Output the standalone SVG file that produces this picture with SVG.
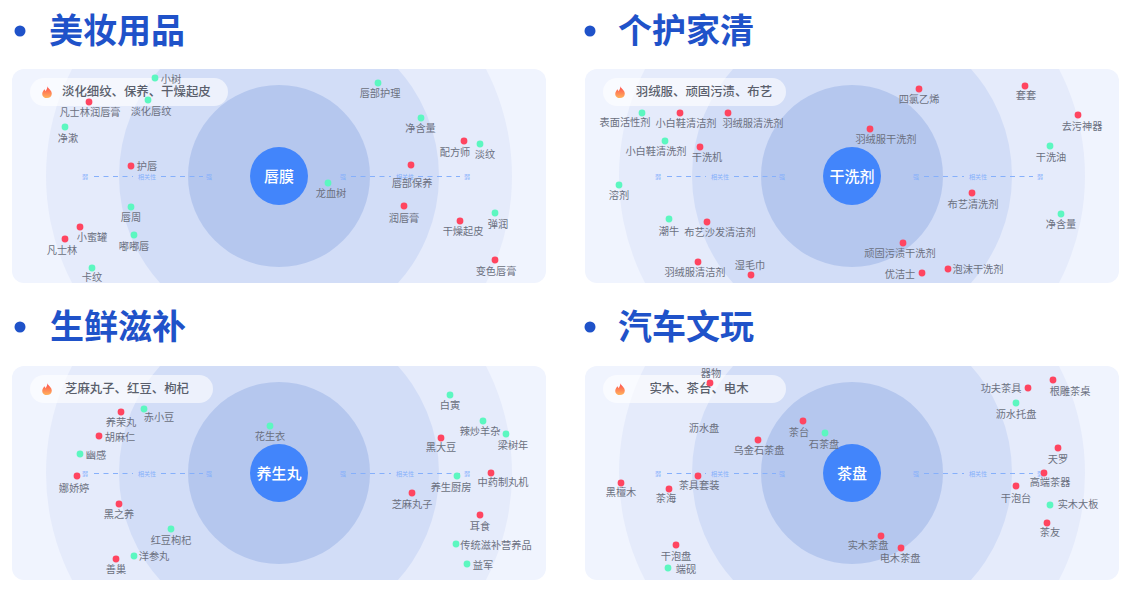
<svg xmlns="http://www.w3.org/2000/svg" xmlns:xlink="http://www.w3.org/1999/xlink" width="1131" height="592" viewBox="0 0 1131 592">
<style>
text{font-family:"Noto Sans CJK SC","Noto Sans",sans-serif;dominant-baseline:central}
.t{font-size:34px;font-weight:700;fill:#1f52c9;transform:translateY(-3px)}
.b{fill:#1f52c9}
.p{fill:#f0f4fe}.c1{fill:#e5ebfb}.c2{fill:#d2ddf7}.c3{fill:#b5c7ee}.c4{fill:#4285fb}
.pill{fill:#fff;fill-opacity:.6}
.pt{font-size:12.4px;fill:#5a5f6c;font-weight:500;transform:translateY(-1px)}
.ct{font-size:15px;fill:#fff;text-anchor:middle;font-weight:500;transform:translateY(-1px)}
.l{font-size:10.2px;fill:#6b7080;text-anchor:middle;transform:translateY(-1px)}
.r{fill:#ff4560}.g{fill:#5cf7c0}
.ax{font-size:6px;fill:#86b0fb;text-anchor:middle;transform:translateY(-.5px)}
.d{stroke:#86b0fb;stroke-width:1;stroke-dasharray:5 4.5;fill:none}
</style>
<defs>
<linearGradient id="fire" x1="0" y1="0" x2="0" y2="1"><stop offset="0" stop-color="#ff4d4f"/><stop offset="1" stop-color="#ffb35c"/></linearGradient>
<path id="flame" d="M0.5,-6.2C1,-3.6 4.8,-2.4 4.8,1.2C4.8,4 2.6,5.6 0,5.6C-2.6,5.6 -4.8,3.9 -4.8,1.4C-4.8,-0.8 -3.2,-1.8 -2.8,-3.2C-2,-2.6 -1.6,-1.8 -1.5,-1.2C-0.6,-2.4 0.4,-4.2 0.5,-6.2Z" fill="url(#fire)"/>
<clipPath id="cp1"><rect x="12" y="69" width="534" height="214" rx="12"/></clipPath>
<clipPath id="cp2"><rect x="585" y="69" width="534" height="214" rx="12"/></clipPath>
<clipPath id="cp3"><rect x="12" y="366" width="534" height="214" rx="12"/></clipPath>
<clipPath id="cp4"><rect x="585" y="366" width="534" height="214" rx="12"/></clipPath>
</defs>

<g id="titles">
<circle class="b" cx="20" cy="31" r="5.5"/><text class="t" x="49" y="31">美妆用品</text>
<circle class="b" cx="590" cy="31" r="5.5"/><text class="t" x="618" y="31">个护家清</text>
<circle class="b" cx="20" cy="327" r="5.5"/><text class="t" x="50" y="327">生鲜滋补</text>
<circle class="b" cx="590" cy="327" r="5.5"/><text class="t" x="618" y="327">汽车文玩</text>
</g>

<g id="panel1-bg"><rect class="p" x="12" y="69" width="534" height="214" rx="12"/><g clip-path="url(#cp1)"><circle class="c1" cx="279" cy="176" r="233"/><circle class="c2" cx="279" cy="176" r="160"/><circle class="c3" cx="279" cy="176" r="91"/></g></g>
<g id="panel2-bg"><rect class="p" x="585" y="69" width="534" height="214" rx="12"/><g clip-path="url(#cp2)"><circle class="c1" cx="852" cy="176" r="233"/><circle class="c2" cx="852" cy="176" r="160"/><circle class="c3" cx="852" cy="176" r="91"/></g></g>
<g id="panel3-bg"><rect class="p" x="12" y="366" width="534" height="214" rx="12"/><g clip-path="url(#cp3)"><circle class="c1" cx="279" cy="473" r="233"/><circle class="c2" cx="279" cy="473" r="160"/><circle class="c3" cx="279" cy="473" r="91"/></g></g>
<g id="panel4-bg"><rect class="p" x="585" y="366" width="534" height="214" rx="12"/><g clip-path="url(#cp4)"><circle class="c1" cx="852" cy="473" r="233"/><circle class="c2" cx="852" cy="473" r="160"/><circle class="c3" cx="852" cy="473" r="91"/></g></g>

<g id="connectors">
<path class="d" d="M94 176.5H133M161 176.5H203M351 176.5H391M418 176.5H460"/>
<path class="d" d="M667 176.5H706M734 176.5H776M924 176.5H964M991 176.5H1033"/>
<path class="d" d="M94 473.5H133M161 473.5H203M351 473.5H391M418 473.5H460"/>
<path class="d" d="M667 473.5H706M734 473.5H776M924 473.5H964M991 473.5H1033"/>
</g>
<g id="axis-labels">
<text class="ax" x="85" y="176.5">弱</text><text class="ax" x="147" y="176.5">相关性</text><text class="ax" x="209" y="176.5">强</text><text class="ax" x="343" y="176.5">强</text><text class="ax" x="405" y="176.5">相关性</text><text class="ax" x="467" y="176.5">弱</text>
<text class="ax" x="658" y="176.5">弱</text><text class="ax" x="720" y="176.5">相关性</text><text class="ax" x="782" y="176.5">强</text><text class="ax" x="916" y="176.5">强</text><text class="ax" x="978" y="176.5">相关性</text><text class="ax" x="1040" y="176.5">弱</text>
<text class="ax" x="85" y="473.5">弱</text><text class="ax" x="147" y="473.5">相关性</text><text class="ax" x="209" y="473.5">强</text><text class="ax" x="343" y="473.5">强</text><text class="ax" x="405" y="473.5">相关性</text><text class="ax" x="467" y="473.5">弱</text>
<text class="ax" x="658" y="473.5">弱</text><text class="ax" x="720" y="473.5">相关性</text><text class="ax" x="782" y="473.5">强</text><text class="ax" x="916" y="473.5">强</text><text class="ax" x="978" y="473.5">相关性</text><text class="ax" x="1040" y="473.5">弱</text>
</g>

<g id="center1"><circle class="c4" cx="279" cy="176" r="29"/><text class="ct" x="279" y="176">唇膜</text></g>
<g id="center2"><circle class="c4" cx="852" cy="176" r="29"/><text class="ct" x="852" y="176">干洗剂</text></g>
<g id="center3"><circle class="c4" cx="279" cy="473" r="29"/><text class="ct" x="279" y="473">养生丸</text></g>
<g id="center4"><circle class="c4" cx="852" cy="473" r="29"/><text class="ct" x="852" y="473">茶盘</text></g>

<g id="pill1"><rect class="pill" x="30" y="78" width="198" height="28" rx="14"/><use xlink:href="#flame" href="#flame" x="47" y="92.5"/><text class="pt" x="62" y="92">淡化细纹、保养、干燥起皮</text></g>
<g id="pill2"><rect class="pill" x="603" y="78" width="183" height="28" rx="14"/><use xlink:href="#flame" href="#flame" x="620" y="92.5"/><text class="pt" x="704" y="92" text-anchor="middle">羽绒服、顽固污渍、布艺</text></g>
<g id="pill3"><rect class="pill" x="30" y="375" width="183" height="28" rx="14"/><use xlink:href="#flame" href="#flame" x="47" y="389.5"/><text class="pt" x="127" y="389" text-anchor="middle">芝麻丸子、红豆、枸杞</text></g>
<g id="pill4"><rect class="pill" x="603" y="375" width="183" height="28" rx="14"/><use xlink:href="#flame" href="#flame" x="620" y="389.5"/><text class="pt" x="699" y="389" text-anchor="middle">实木、茶台、电木</text></g>

<g id="p1-n1"><circle class="g" cx="155" cy="78" r="3.4"/><text class="l" x="171" y="79">小树</text></g>
<g id="p1-n2"><circle class="r" cx="89" cy="102" r="3.4"/><text class="l" x="90" y="112">凡士林润唇膏</text></g>
<g id="p1-n3"><circle class="g" cx="148" cy="100" r="3.4"/><text class="l" x="151" y="111">淡化唇纹</text></g>
<g id="p1-n4"><circle class="g" cx="65" cy="127" r="3.4"/><text class="l" x="68" y="138">净漱</text></g>
<g id="p1-n5"><circle class="r" cx="131" cy="166" r="3.4"/><text class="l" x="147" y="166">护唇</text></g>
<g id="p1-n6"><circle class="g" cx="131" cy="207" r="3.4"/><text class="l" x="131" y="217">唇周</text></g>
<g id="p1-n7"><circle class="r" cx="80" cy="227" r="3.4"/><text class="l" x="92" y="237">小蜜罐</text></g>
<g id="p1-n8"><circle class="r" cx="65" cy="239" r="3.4"/><text class="l" x="62" y="250">凡士林</text></g>
<g id="p1-n9"><circle class="g" cx="134" cy="235" r="3.4"/><text class="l" x="134" y="246">嘟嘟唇</text></g>
<g id="p1-n10"><circle class="g" cx="92" cy="268" r="3.4"/><text class="l" x="92" y="277">卡纹</text></g>
<g id="p1-n11"><circle class="g" cx="378" cy="83" r="3.4"/><text class="l" x="380" y="93">唇部护理</text></g>
<g id="p1-n12"><circle class="g" cx="421" cy="118" r="3.4"/><text class="l" x="420.5" y="128">净含量</text></g>
<g id="p1-n13"><circle class="r" cx="464" cy="141" r="3.4"/><text class="l" x="455" y="152">配方师</text></g>
<g id="p1-n14"><circle class="g" cx="480" cy="144" r="3.4"/><text class="l" x="485" y="154">淡纹</text></g>
<g id="p1-n15"><circle class="r" cx="411" cy="165" r="3.4"/><text class="l" x="412" y="183">唇部保养</text></g>
<g id="p1-n16"><circle class="g" cx="328" cy="183" r="3.4"/><text class="l" x="331" y="193">龙血树</text></g>
<g id="p1-n17"><circle class="r" cx="404" cy="206" r="3.4"/><text class="l" x="404" y="218">润唇膏</text></g>
<g id="p1-n18"><circle class="r" cx="460" cy="221" r="3.4"/><text class="l" x="463" y="231">干燥起皮</text></g>
<g id="p1-n19"><circle class="g" cx="495" cy="213" r="3.4"/><text class="l" x="498" y="224">弹润</text></g>
<g id="p1-n20"><circle class="r" cx="495" cy="260" r="3.4"/><text class="l" x="496" y="271">变色唇膏</text></g>

<g id="p2-n1"><circle class="g" cx="642" cy="113" r="3.4"/><text class="l" x="625" y="122">表面活性剂</text></g>
<g id="p2-n2"><circle class="r" cx="680" cy="113" r="3.4"/><text class="l" x="686" y="123">小白鞋清洁剂</text></g>
<g id="p2-n3"><circle class="r" cx="728" cy="113" r="3.4"/><text class="l" x="753" y="123">羽绒服清洗剂</text></g>
<g id="p2-n4"><circle class="g" cx="665" cy="141" r="3.4"/><text class="l" x="656" y="151">小白鞋清洗剂</text></g>
<g id="p2-n5"><circle class="r" cx="700" cy="147" r="3.4"/><text class="l" x="707" y="157">干洗机</text></g>
<g id="p2-n6"><circle class="g" cx="619" cy="185" r="3.4"/><text class="l" x="619" y="195">溶剂</text></g>
<g id="p2-n7"><circle class="g" cx="669" cy="219" r="3.4"/><text class="l" x="669" y="231">潮牛</text></g>
<g id="p2-n8"><circle class="r" cx="707" cy="222" r="3.4"/><text class="l" x="720" y="232">布艺沙发清洁剂</text></g>
<g id="p2-n9"><circle class="r" cx="698" cy="262" r="3.4"/><text class="l" x="695" y="272">羽绒服清洁剂</text></g>
<g id="p2-n10"><circle class="r" cx="751" cy="275" r="3.4"/><text class="l" x="750" y="265">湿毛巾</text></g>
<g id="p2-n11"><circle class="r" cx="919" cy="89" r="3.4"/><text class="l" x="919" y="99">四氯乙烯</text></g>
<g id="p2-n12"><circle class="r" cx="1025" cy="86" r="3.4"/><text class="l" x="1026" y="95">套套</text></g>
<g id="p2-n13"><circle class="r" cx="1078" cy="115" r="3.4"/><text class="l" x="1082" y="126">去污神器</text></g>
<g id="p2-n14"><circle class="r" cx="870" cy="129" r="3.4"/><text class="l" x="886" y="139">羽绒服干洗剂</text></g>
<g id="p2-n15"><circle class="g" cx="1050" cy="146" r="3.4"/><text class="l" x="1051" y="157">干洗油</text></g>
<g id="p2-n16"><circle class="r" cx="972" cy="193" r="3.4"/><text class="l" x="973" y="204">布艺清洗剂</text></g>
<g id="p2-n17"><circle class="g" cx="1061" cy="214" r="3.4"/><text class="l" x="1061" y="224">净含量</text></g>
<g id="p2-n18"><circle class="r" cx="903" cy="243" r="3.4"/><text class="l" x="900" y="253">顽固污渍干洗剂</text></g>
<g id="p2-n19"><circle class="r" cx="922" cy="273" r="3.4"/><text class="l" x="900" y="274">优洁士</text></g>
<g id="p2-n20"><circle class="r" cx="948" cy="269" r="3.4"/><text class="l" x="978" y="269">泡沫干洗剂</text></g>

<g id="p3-n1"><circle class="r" cx="121" cy="412" r="3.4"/><text class="l" x="121" y="422">养荣丸</text></g>
<g id="p3-n2"><circle class="g" cx="144" cy="409" r="3.4"/><text class="l" x="159" y="417">赤小豆</text></g>
<g id="p3-n3"><circle class="r" cx="99" cy="436" r="3.4"/><text class="l" x="120" y="437">胡麻仁</text></g>
<g id="p3-n4"><circle class="g" cx="80" cy="454" r="3.4"/><text class="l" x="96" y="455">幽感</text></g>
<g id="p3-n5"><circle class="r" cx="77" cy="476" r="3.4"/><text class="l" x="74" y="488">娜娇婷</text></g>
<g id="p3-n6"><circle class="r" cx="119" cy="504" r="3.4"/><text class="l" x="119" y="514">黑之养</text></g>
<g id="p3-n7"><circle class="g" cx="171" cy="529" r="3.4"/><text class="l" x="171" y="540">红豆枸杞</text></g>
<g id="p3-n8"><circle class="g" cx="134" cy="556" r="3.4"/><text class="l" x="154" y="556">洋参丸</text></g>
<g id="p3-n9"><circle class="r" cx="116" cy="559" r="3.4"/><text class="l" x="116" y="569">善巢</text></g>
<g id="p3-n10"><circle class="g" cx="270" cy="426" r="3.4"/><text class="l" x="270" y="436">花生衣</text></g>
<g id="p3-n11"><circle class="g" cx="450" cy="395" r="3.4"/><text class="l" x="450" y="405">白寅</text></g>
<g id="p3-n12"><circle class="g" cx="483" cy="421" r="3.4"/><text class="l" x="480" y="431">辣炒羊杂</text></g>
<g id="p3-n13"><circle class="g" cx="506" cy="434" r="3.4"/><text class="l" x="513" y="445">梁树年</text></g>
<g id="p3-n14"><circle class="r" cx="441" cy="438" r="3.4"/><text class="l" x="441" y="447">黑大豆</text></g>
<g id="p3-n15"><circle class="g" cx="457" cy="476" r="3.4"/><text class="l" x="451" y="487">养生厨房</text></g>
<g id="p3-n16"><circle class="r" cx="491" cy="473" r="3.4"/><text class="l" x="503" y="482">中药制丸机</text></g>
<g id="p3-n17"><circle class="r" cx="412" cy="493" r="3.4"/><text class="l" x="412" y="504">芝麻丸子</text></g>
<g id="p3-n18"><circle class="r" cx="480" cy="515" r="3.4"/><text class="l" x="480" y="526">耳食</text></g>
<g id="p3-n19"><circle class="g" cx="456" cy="544" r="3.4"/><text class="l" x="496" y="545">传统滋补营养品</text></g>
<g id="p3-n20"><circle class="g" cx="467" cy="564" r="3.4"/><text class="l" x="483" y="565">益军</text></g>

<g id="p4-n1"><circle class="r" cx="710" cy="383" r="3.4"/><text class="l" x="711" y="373">器物</text></g>
<g id="p4-n2"><text class="l" x="704" y="428">沥水盘</text></g>
<g id="p4-n3"><circle class="r" cx="803" cy="421" r="3.4"/><text class="l" x="799" y="432">茶台</text></g>
<g id="p4-n4"><circle class="g" cx="825" cy="433" r="3.4"/><text class="l" x="824" y="444">石茶盘</text></g>
<g id="p4-n5"><circle class="r" cx="758" cy="440" r="3.4"/><text class="l" x="759" y="450">乌金石茶盘</text></g>
<g id="p4-n6"><circle class="r" cx="698" cy="476" r="3.4"/><text class="l" x="699" y="485">茶具套装</text></g>
<g id="p4-n7"><circle class="r" cx="621" cy="483" r="3.4"/><text class="l" x="621" y="492">黑檀木</text></g>
<g id="p4-n8"><circle class="r" cx="669" cy="489" r="3.4"/><text class="l" x="666" y="498">茶海</text></g>
<g id="p4-n9"><circle class="r" cx="676" cy="545" r="3.4"/><text class="l" x="676" y="556">干泡盘</text></g>
<g id="p4-n10"><circle class="g" cx="668" cy="568" r="3.4"/><text class="l" x="686" y="569">端砚</text></g>
<g id="p4-n11"><circle class="r" cx="1028" cy="388" r="3.4"/><text class="l" x="1001" y="388">功夫茶具</text></g>
<g id="p4-n12"><circle class="r" cx="1053" cy="380" r="3.4"/><text class="l" x="1070" y="391">根雕茶桌</text></g>
<g id="p4-n13"><circle class="g" cx="1016" cy="403" r="3.4"/><text class="l" x="1016" y="414">沥水托盘</text></g>
<g id="p4-n14"><circle class="r" cx="1058" cy="448" r="3.4"/><text class="l" x="1058" y="459">天罗</text></g>
<g id="p4-n15"><circle class="r" cx="1044" cy="473" r="3.4"/><text class="l" x="1050" y="482">高端茶器</text></g>
<g id="p4-n16"><circle class="r" cx="1016" cy="486" r="3.4"/><text class="l" x="1016" y="498">干泡台</text></g>
<g id="p4-n17"><circle class="g" cx="1050" cy="505" r="3.4"/><text class="l" x="1078" y="504">实木大板</text></g>
<g id="p4-n18"><circle class="r" cx="1047" cy="523" r="3.4"/><text class="l" x="1050" y="532">茶友</text></g>
<g id="p4-n19"><circle class="r" cx="881" cy="536" r="3.4"/><text class="l" x="868" y="545">实木茶盘</text></g>
<g id="p4-n20"><circle class="r" cx="901" cy="548" r="3.4"/><text class="l" x="900" y="558">电木茶盘</text></g>
</svg>
